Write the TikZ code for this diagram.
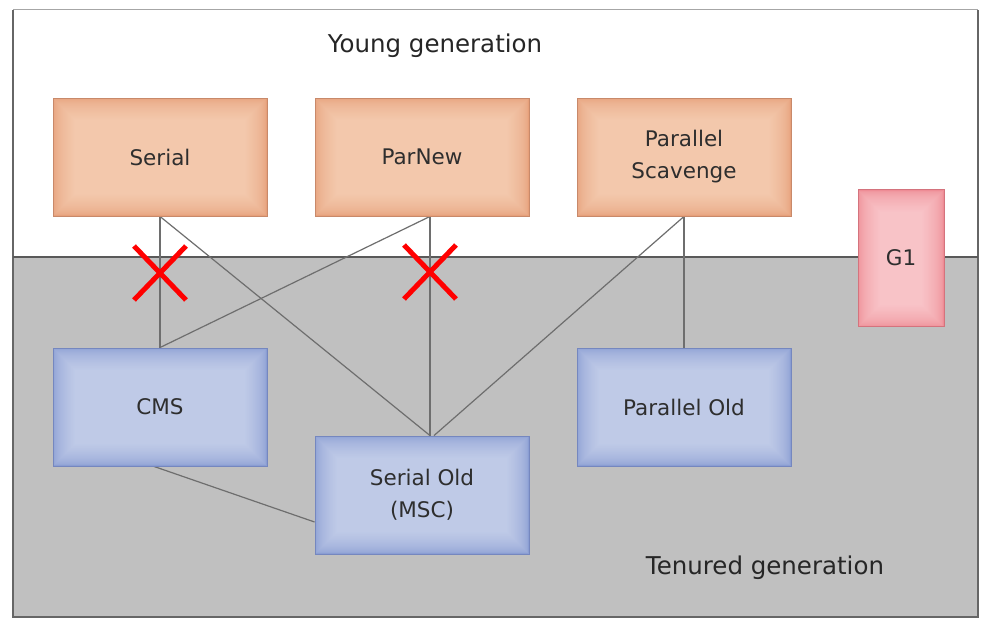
\documentclass[tikz,border=0pt]{standalone}
\usepackage{fontspec}
\setmainfont{DejaVu Sans}
\definecolor{bggray}{HTML}{C0C0C0}
\definecolor{linegray}{HTML}{6E6E6E}
\definecolor{orOut}{HTML}{E6A07A}
\definecolor{orIn}{HTML}{F3C8AC}
\definecolor{orBd}{HTML}{C8896A}
\definecolor{blOut}{HTML}{8A9DD3}
\definecolor{blIn}{HTML}{BFCAE7}
\definecolor{blBd}{HTML}{7587BF}
\definecolor{pkOut}{HTML}{EE8C95}
\definecolor{pkIn}{HTML}{F8C3C7}
\definecolor{pkBd}{HTML}{D4737D}
\definecolor{txt}{HTML}{2E2E2E}
\pgfdeclarelayer{bg}
\pgfdeclarelayer{links}
\pgfsetlayers{bg,links,main}
\tikzset{
  gc/.style n args={3}{draw=#3, line width=0.9pt, minimum width=214pt, minimum height=118pt,
    align=center, text=txt, font=\fontsize{21.5}{32}\selectfont, inner sep=0pt,
    path picture={
      \foreach \k in {0,...,22}{
        \pgfmathtruncatemacro\pct{100*sqrt(\k/22)}
        \fill[#2!\pct!#1] ([shift={(\k*1pt,-\k*1pt)}]path picture bounding box.north west)
          rectangle ([shift={(-\k*1pt,\k*1pt)}]path picture bounding box.south east);
      }
    }},
  young/.style={gc={orOut}{orIn}{orBd}},
  tenured/.style={gc={blOut}{blIn}{blBd}},
  conn/.style={draw=linegray, line width=1.2pt},
  cross/.style={draw=red, line width=5pt},
  title/.style={text=black!85, font=\fontsize{24.5}{28}\selectfont}
}
\begin{document}
\begin{tikzpicture}[x=1pt,y=-1pt]
\useasboundingbox (0,0) rectangle (993,623);
\begin{pgfonlayer}{bg}
\fill[white] (0,0) rectangle (993,623);
\fill[bggray] (13,257) rectangle (978,617);
\draw[black!35, line width=1pt] (13,10) -- (978,10);
\draw[black!60, line width=1.3pt] (13,10) -- (13,617) -- (978,617) -- (978,10);
\draw[black!65, line width=2pt] (13,257) -- (978,257);
\end{pgfonlayer}
% titles
\node[title] (young) at (435,46) {Young generation};
\node[title] (tenured) at (765,568) {Tenured generation};
% boxes
\node[young] (serial) at (160,157) {Serial};
\node[young] (parnew) at (422,157) {ParNew};
\node[young] (ps) at (684,157) {Parallel\\Scavenge};
\node[tenured] (cms) at (160,407) {CMS};
\node[tenured] (so) at (422,495) {Serial Old\\(MSC)};
\node[tenured] (po) at (684,407) {Parallel Old};
\node[gc={pkOut}{pkIn}{pkBd}, minimum width=86pt, minimum height=137pt] (g1) at (901,258) {G1};
% connectors
\begin{pgfonlayer}{links}
\path[conn] (serial.south) -- (cms.north);
\path[conn] (serial.south) -- ([xshift=8pt]so.north);
\path[conn] ([xshift=8pt]parnew.south) -- (cms.north);
\path[conn] ([xshift=8pt]parnew.south) -- ([xshift=8pt]so.north);
\path[conn] (ps.south) -- ([xshift=12pt]so.north);
\path[conn] (ps.south) -- (po.north);
\path[conn] ([xshift=-6pt]cms.south) -- ([yshift=-27pt]so.west);
\end{pgfonlayer}
% crosses
\coordinate (x1) at (160,273);
\coordinate (x2) at (430,272);
\draw[cross] (x1) +(-26,-27) -- +(26,27);
\draw[cross] (x1) +(-26,27) -- +(26,-27);
\draw[cross] (x2) +(-26,-27) -- +(26,27);
\draw[cross] (x2) +(-26,27) -- +(26,-27);
\end{tikzpicture}
\end{document}
